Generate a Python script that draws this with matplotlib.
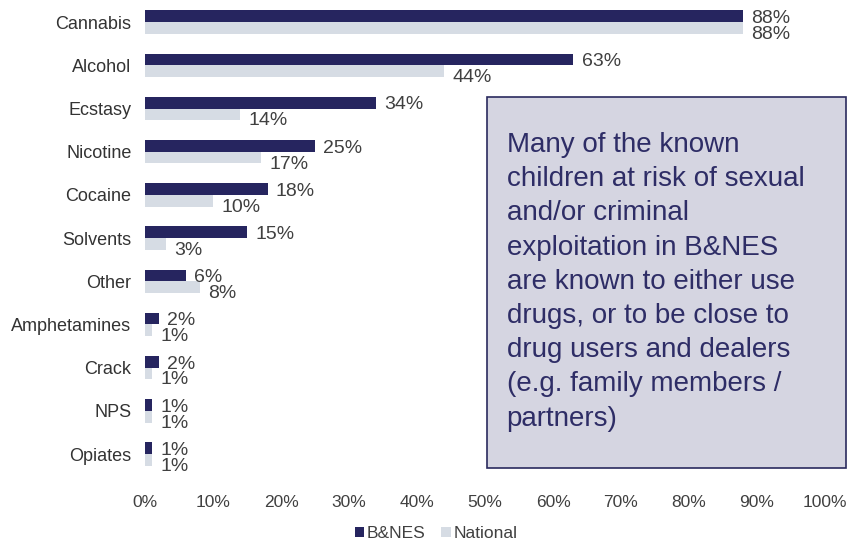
import matplotlib
matplotlib.use("Agg")
from matplotlib import pyplot as plt
from matplotlib.patches import Rectangle
import numpy as np

plt.rcParams['font.family'] = ['Liberation Sans', 'DejaVu Sans']

# drug categories, top to bottom
drugs = ["Cannabis", "Alcohol", "Ecstasy", "Nicotine", "Cocaine", "Solvents",
         "Other", "Amphetamines", "Crack", "NPS", "Opiates"]
bnes = [88, 63, 34, 25, 18, 15, 6, 2, 2, 1, 1]
national = [88, 44, 14, 17, 10, 3, 8, 1, 1, 1, 1]
x_ticks = [0, 10, 20, 30, 40, 50, 60, 70, 80, 90, 100]

note = ("Many of the known\nchildren at risk of sexual\nand/or criminal\n"
        "exploitation in B&NES\nare known to either use\ndrugs, or to be close to\n"
        "drug users and dealers\n(e.g. family members /\npartners)")

dark = "#26255f"
light = "#d6dce4"
grey = "#404040"

fig = plt.figure(figsize=(8.5, 5.43), dpi=100)
ax = fig.add_axes([0.171, 0.124, 0.7994, 0.875])

ys = np.arange(len(drugs))
h = 0.27
ax.barh(ys - h / 2, bnes, height=h, color=dark, label="B&NES")
ax.barh(ys + h / 2, national, height=h, color=light, label="National")

for y, v in zip(ys, bnes):
    ax.text(v + 1.2, y - h / 2 + 0.05, f"{v}%", va="center", ha="left", fontsize=14, color=grey)
for y, v in zip(ys, national):
    ax.text(v + 1.2, y + h / 2 + 0.15, f"{v}%", va="center", ha="left", fontsize=14, color=grey)

ax.set_xlim(0, 100)
ax.set_ylim(len(drugs) - 0.5, -0.5)
ax.set_yticks(ys)
ax.set_yticklabels(drugs, fontsize=13, color="#333333")
ax.set_xticks(x_ticks)
ax.set_xticklabels([f"{t}%" for t in x_ticks], fontsize=12.5, color=grey)
ax.tick_params(length=0, axis="x", pad=14)
ax.tick_params(length=0, axis="y", pad=10)
for s in ax.spines.values():
    s.set_visible(False)

fig.legend(handles=ax.containers, labels=["B&NES", "National"], loc="center",
           bbox_to_anchor=(0.513, 0.017), ncol=2, frameon=False,
           fontsize=12.5, handlelength=0.55, handleheight=0.55, handletextpad=0.15,
           columnspacing=0.9, labelcolor=grey, borderpad=0)

# note box
fig.patches.append(Rectangle((0.573, 0.138), 0.422, 0.683, transform=fig.transFigure,
                             facecolor="#d5d5e1", edgecolor="#2a2a5e", linewidth=1.2))
fig.text(0.596, 0.757, note, transform=fig.transFigure, fontsize=20, color="#2e2d66",
         va="top", ha="left", linespacing=1.41)

fig.savefig("out.png", dpi=100)
